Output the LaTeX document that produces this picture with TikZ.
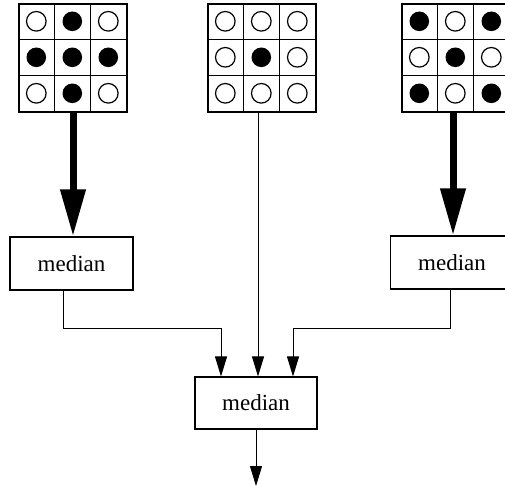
\documentclass[tikz,border=0pt]{standalone}
\usepackage{fontspec}
\setmainfont{Liberation Serif}
\usetikzlibrary{arrows.meta,calc}

\tikzset{
  gridbox/.style={draw, line width=1.4pt, minimum width=108pt, minimum height=108pt, inner sep=0pt},
  medbox/.style={draw, line width=1.1pt, minimum width=123pt, minimum height=53pt, inner sep=0pt,
                 font=\fontsize{23}{27}\selectfont},
  thickarrow/.style={line width=7pt, -{Triangle[length=47pt,width=24pt]}},
  thinarrow/.style={line width=0.9pt, -{Triangle[length=20pt,width=12pt]}},
  link/.style={line width=0.9pt},
  opendot/.style={draw, line width=1.2pt, fill=white},
  fulldot/.style={fill=black}
}

% a 3x3 mask: lines between the cells and one dot per cell (1 = filled)
\newcommand\maskgrid[2]{%
  \draw[line width=1.4pt] ($(#1.north west)+(36,0)$) -- ($(#1.south west)+(36,0)$)
                          ($(#1.north west)+(72,0)$) -- ($(#1.south west)+(72,0)$)
                          ($(#1.north west)+(0,36)$) -- ($(#1.north east)+(0,36)$)
                          ($(#1.north west)+(0,72)$) -- ($(#1.north east)+(0,72)$);
  \foreach \v [count=\i from 0] in {#2} {
    \pgfmathtruncatemacro\cc{mod(\i,3)}
    \pgfmathtruncatemacro\rr{div(\i,3)}
    \ifnum\v=1
      \fill[fulldot] ($(#1.north west)+(\cc*36+18,\rr*36+18)$) circle (9.8pt);
    \else
      \draw[opendot] ($(#1.north west)+(\cc*36+18,\rr*36+18)$) circle (9.8pt);
    \fi
  }%
}

\begin{document}
\begin{tikzpicture}[x=1pt,y=-1pt]
  \useasboundingbox (0,0) rectangle (505,487);
  \clip (0,0) rectangle (505,487);

  % input masks
  \node[gridbox] (gL) at (73,58) {};
  \node[gridbox] (gM) at (262,58) {};
  \node[gridbox] (gR) at (456,58) {};
  \maskgrid{gL}{0,1,0,1,1,1,0,1,0}
  \maskgrid{gM}{0,0,0,0,1,0,0,0,0}
  \maskgrid{gR}{1,0,1,0,1,0,1,0,1}

  % median filters
  \node[medbox] (medL) at (71.5,263.5) {median};
  \node[medbox] (medR) at (452,262.5) {median};
  \node[medbox, minimum width=122pt, minimum height=52pt] (medC) at (256,403) {median};
  \coordinate (out) at (256,486);

  % thick arrows into the first-stage medians
  \draw[thickarrow] (gL.south) -- (gL.south |- medL.north);
  \draw[thickarrow] ([xshift=-3pt]gR.south) -- ([xshift=-3pt]gR.south |- medR.north);

  % connections into the final median
  \draw[thinarrow] ([xshift=-8.5pt]medL.south) -- ++(0,37.5) -| ([xshift=-35pt]medC.north);
  \draw[thinarrow] ([xshift=-4pt]gM.south) -- ([xshift=-4pt]gM.south |- medC.north);
  \draw[thinarrow] ([xshift=-2pt]medR.south) -- ++(0,38.5) -| ([xshift=37pt]medC.north);

  % output
  \draw[thinarrow] (medC.south) -- (out);
\end{tikzpicture}
\end{document}
